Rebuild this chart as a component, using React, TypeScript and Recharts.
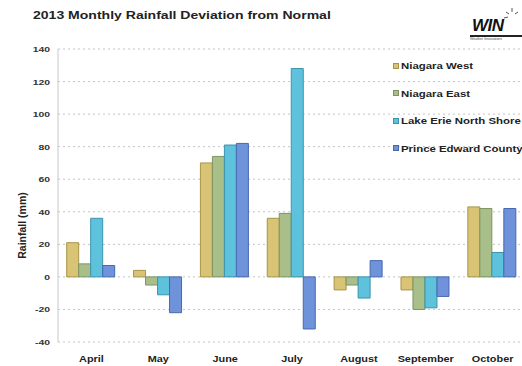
import React from 'react';
import { BarChart, Bar, XAxis, YAxis, CartesianGrid } from 'recharts';

const months = ['April', 'May', 'June', 'July', 'August', 'September', 'October'];
const niagaraWest = [21, 4, 70, 36, -8, -8, 43];
const niagaraEast = [8, -5, 74, 39, -5, -20, 42];
const lakeErie = [36, -11, 81, 128, -13, -19, 15];
const princeEdward = [7, -22, 82, -32, 10, -12, 42];
const yTicks = [-40, -20, 0, 20, 40, 60, 80, 100, 120, 140];

const seriesDefs = [
  { key: 'nw', name: 'Niagara West', fill: '#D9C374', stroke: '#A89447', values: niagaraWest },
  { key: 'ne', name: 'Niagara East', fill: '#A9BF89', stroke: '#7D9463', values: niagaraEast },
  { key: 'le', name: 'Lake Erie North Shore', fill: '#5EC2DD', stroke: '#3B93AE', values: lakeErie },
  { key: 'pe', name: 'Prince Edward County', fill: '#6F93DB', stroke: '#4768AE', values: princeEdward },
];

const data = months.map((m, i) => {
  const row: Record<string, string | number> = { month: m };
  seriesDefs.forEach((s) => {
    row[s.key] = s.values[i];
  });
  return row;
});

const font = '"Liberation Sans", Arial, sans-serif';

const XTick = (props: any) => {
  const { x, y, payload } = props;
  return (
    <g transform={`translate(${x},${y})`}>
      <text transform="scale(1.28,1)" x={0} y={0} dy={10} textAnchor="middle" fontFamily={font} fontWeight={700} fontSize={8.5} fill="#222">
        {payload.value}
      </text>
    </g>
  );
};

const YTick = (props: any) => {
  const { x, y, payload } = props;
  return (
    <g transform={`translate(${x},${y})`}>
      <text transform="scale(1.3,1)" x={0} y={0} dy={3} textAnchor="end" fontFamily={font} fontWeight={700} fontSize={8} fill="#333">
        {payload.value}
      </text>
    </g>
  );
};

const LegendBlock = () => (
  <div style={{ position: 'absolute', left: 393, top: 52, fontFamily: font, fontWeight: 700, fontSize: 9.5, color: '#222' }}>
    {seriesDefs.map((s) => (
      <div key={s.key} style={{ display: 'flex', alignItems: 'center', height: 27.5, whiteSpace: 'nowrap' }}>
        <span style={{ display: 'inline-block', width: 4, height: 4, background: s.fill, border: `1px solid ${s.stroke}`, marginRight: 2 }} />
        <span style={{ display: 'inline-block', transform: 'scaleX(1.2)', transformOrigin: 'left center' }}>{s.name}</span>
      </div>
    ))}
  </div>
);

export default function App() {
  return (
    <div style={{ position: 'absolute', left: 0, top: 0, width: 522, height: 366, overflow: 'hidden', background: '#fff' }}>
      <div style={{ position: 'absolute', left: 33, top: 9, fontFamily: font, fontWeight: 700, fontSize: 11.5, color: '#222', whiteSpace: 'nowrap', transform: 'scaleX(1.22)', transformOrigin: 'left center' }}>
        2013 Monthly Rainfall Deviation from Normal
      </div>
      <div style={{ position: 'absolute', left: 470, top: 6, width: 52, height: 36 }}>
        <svg width={52} height={14} style={{ position: 'absolute', left: 0, top: 0 }}>
          <g stroke="#555" strokeWidth={1}>
            <line x1={42} y1={2} x2={42} y2={6} />
            <line x1={36} y1={6} x2={39} y2={8} />
            <line x1={48} y1={6} x2={45} y2={8} />
            <line x1={34} y1={12} x2={38} y2={11} />
          </g>
        </svg>
        <div style={{ position: 'absolute', left: 2, top: 11, fontFamily: font, fontWeight: 900, fontStyle: 'italic', fontSize: 17, color: '#111', letterSpacing: -0.5, lineHeight: '17px' }}>
          WIN
        </div>
        <div style={{ position: 'absolute', left: 0, top: 29, width: 52, height: 1.5, background: '#222' }} />
        <div style={{ position: 'absolute', left: 0, top: 31, fontFamily: font, fontSize: 3.5, color: '#444', whiteSpace: 'nowrap' }}>
          Weather Innovations
        </div>
      </div>
      <div style={{ position: 'absolute', left: 0, top: 0 }}>
        <BarChart
          width={540}
          height={366}
          data={data}
          margin={{ top: 49, right: 14, left: 0, bottom: 0 }}
          barCategoryGap="13%"
          barGap={0}
        >
          <CartesianGrid vertical={false} stroke="#c4c4c4" strokeDasharray="2 3" />
          <XAxis
            dataKey="month"
            axisLine={false}
            tickLine={false}
            height={24}
            tick={<XTick />}
            tickMargin={4}
            interval={0}
          />
          <YAxis
            domain={[-40, 140]}
            ticks={yTicks}
            width={58}
            axisLine={{ stroke: '#c8c8c8' }}
            tickLine={false}
            tick={<YTick />}
            tickMargin={2}
            label={{ value: 'Rainfall (mm)', angle: -90, position: 'insideLeft', offset: 22, dy: 30, style: { fontFamily: font, fontWeight: 700, fontSize: 10.5, fill: '#222', textAnchor: 'middle' } }}
          />
          {seriesDefs.map((s) => (
            <Bar key={s.key} dataKey={s.key} name={s.name} fill={s.fill} stroke={s.stroke} strokeWidth={1} isAnimationActive={false} />
          ))}
        </BarChart>
      </div>
      <LegendBlock />
    </div>
  );
}
